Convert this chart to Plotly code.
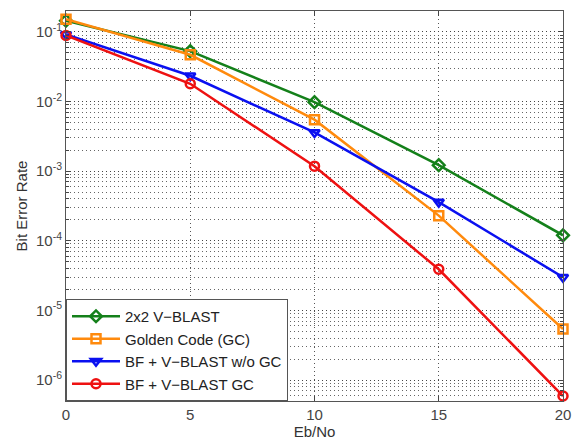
import plotly.graph_objects as go

ebno = [0, 5, 10, 15, 20]
ber_vblast = [0.145, 0.053, 0.0098, 0.00122, 0.00012]
ber_golden = [0.152, 0.047, 0.0055, 0.00023, 5.4e-6]
ber_bf_nogc = [0.092, 0.0235, 0.0036, 0.00036, 3.0e-5]
ber_bf_gc = [0.089, 0.018, 0.00118, 3.9e-5, 5.9e-7]

names = ["2x2 V\u2212BLAST", "Golden Code (GC)", "BF + V\u2212BLAST w/o GC", "BF + V\u2212BLAST GC"]
colors = ["#14801a", "#ff8a0d", "#0a10f0", "#ee1111"]
symbols = ["diamond-open", "square-open", "triangle-down-open", "circle-open"]
series = [ber_vblast, ber_golden, ber_bf_nogc, ber_bf_gc]

yticks = [1e-6, 1e-5, 1e-4, 1e-3, 1e-2, 1e-1]
yticktext = ["10<sup>-6</sup>", "10<sup>-5</sup>", "10<sup>-4</sup>", "10<sup>-3</sup>", "10<sup>-2</sup>", "10<sup>-1</sup>"]
yminor = [m * d for d in [1e-7, 1e-6, 1e-5, 1e-4, 1e-3, 1e-2, 1e-1] for m in range(2, 10)]
xticks = [0, 5, 10, 15, 20]

fig = go.Figure()
for n, c, s, y in zip(names, colors, symbols, series):
    fig.add_trace(go.Scatter(
        x=ebno, y=y, name=n, mode="lines+markers",
        line=dict(color=c, width=2.5),
        marker=dict(symbol=s, size=9, color=c, line=dict(color=c, width=2.5)),
        cliponaxis=False,
    ))

fig.update_layout(
    width=573, height=445,
    margin=dict(l=66, r=10, t=11, b=44, autoexpand=False),
    paper_bgcolor="white", plot_bgcolor="white",
    font=dict(family="Liberation Sans, Arial, sans-serif", size=14, color="#333"),
    showlegend=True,
    legend=dict(x=0, y=0, xanchor="left", yanchor="bottom",
                bgcolor="white", bordercolor="#555", borderwidth=1,
                font=dict(size=15, color="#222"), itemwidth=48, tracegroupgap=0),
)
fig.update_xaxes(
    range=[0, 20], tickvals=xticks, ticks="inside", ticklen=5,
    showline=True, linecolor="#555", linewidth=1, mirror="ticks",
    showgrid=True, gridcolor="#555", griddash="1px,3px", gridwidth=1,
    zeroline=False, automargin=False,
    title=dict(text="Eb/No", standoff=2, font=dict(size=15)),
    tickfont=dict(size=15, color="#444"),
)
fig.update_yaxes(
    type="log", range=[-6.301, -0.699], tickvals=yticks, ticktext=yticktext,
    ticks="inside", ticklen=5,
    showline=True, linecolor="#555", linewidth=1, mirror="ticks",
    showgrid=True, gridcolor="#444", griddash="1px,3px", gridwidth=1,
    minor=dict(tickmode="array", tickvals=yminor, showgrid=True, gridcolor="#666",
               griddash="1px,3px", gridwidth=1, ticks="inside", ticklen=3),
    zeroline=False, automargin=False,
    title=dict(text="Bit Error Rate", standoff=4, font=dict(size=15)),
    tickfont=dict(size=15, color="#444"),
)

fig.write_html("out.html", config={"displayModeBar": False},
               post_script="document.body.style.margin='0';")
